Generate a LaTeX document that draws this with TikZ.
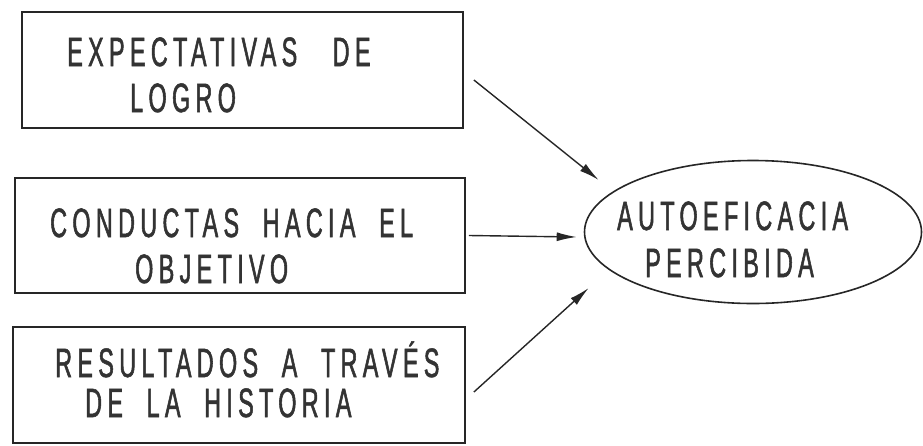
\documentclass[tikz,border=0pt]{standalone}
\usepackage{fontspec}
\usetikzlibrary{shapes.geometric,arrows.meta,calc}
\newfontfamily\hand{Liberation Sans}[FakeStretch=0.57,LetterSpace=13,FakeBold=1.3]
\begin{document}
\begin{tikzpicture}[x=1pt,y=-1pt,
  boxnode/.style={draw=black!85,line width=1.8pt,rectangle,inner sep=0pt},
  ellnode/.style={draw=black!85,line width=1.6pt,ellipse,inner sep=0pt,minimum width=337pt,minimum height=143pt},
  txt/.style={anchor=base west,inner sep=0pt,text=black!80,font=\hand\fontsize{41}{44}\selectfont},
  arr/.style={draw=black!85,line width=1.4pt,-{Latex[length=20pt,width=9pt]}}]
\useasboundingbox (0,0) rectangle (923,445);
\node[boxnode,minimum width=441pt,minimum height=116pt] (b1) at (242.5,70) {};
\node[boxnode,minimum width=450pt,minimum height=115pt] (b2) at (240,235.5) {};
\node[boxnode,minimum width=452pt,minimum height=116pt] (b3) at (239,385) {};
\node[ellnode] (e) at (753,232) {};
\node[txt] (t11) at (67,66) {EXPECTATIVAS\ \ \ DE};
\node[txt] (t12) at (130,112) {LOGRO};
\node[txt] (t21) at (50,237) {CONDUCTAS\ \ HACIA\ \ EL};
\node[txt] (t22) at (135,283) {OBJETIVO};
\node[txt] (t31) at (55,377) {RESULTADOS\ \ A\ \ TRAVÉS};
\node[txt] (t32) at (85,417) {DE\ \ LA\ \ HISTORIA};
\node[txt] (te1) at (617,230) {AUTOEFICACIA};
\node[txt] (te2) at (645,277) {PERCIBIDA};
\draw[arr] ($(b1.east)+(10,10)$) -- ($(e.west)+(15,-52)$);
\draw[arr] ($(b2.east)+(3,0)$) -- ($(e.west)+(-7,5)$);
\draw[arr] ($(b3.east)+(8,7)$) -- ($(e.west)+(5,56)$);
\end{tikzpicture}
\end{document}
